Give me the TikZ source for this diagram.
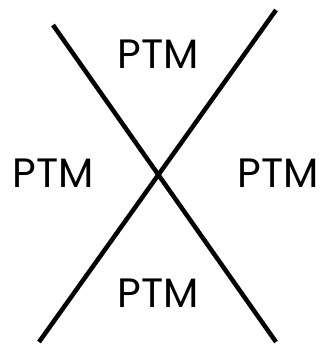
\documentclass[tikz,border=0pt]{standalone}
\usepackage{fontspec}
\setmainfont{Poppins}
\begin{document}
\begin{tikzpicture}[x=1pt,y=-1pt,
  bar/.style={line width=4.5pt,black},
  lbl/.style={inner sep=0pt,anchor=base,font=\fontsize{41}{43}\selectfont}]
\useasboundingbox (0,0) rectangle (324,345);
\coordinate (a1) at (53,25);
\coordinate (a2) at (276,342);
\coordinate (b1) at (276,10);
\coordinate (b2) at (39,342);
\draw[bar] (a1) -- (a2);
\draw[bar] (b1) -- (b2);
\node[lbl] (top) at (158.5,68) {PTM};
\node[lbl] (left) at (53.5,187) {PTM};
\node[lbl] (right) at (278,187) {PTM};
\node[lbl] (bottom) at (158.5,307) {PTM};
\end{tikzpicture}
\end{document}
